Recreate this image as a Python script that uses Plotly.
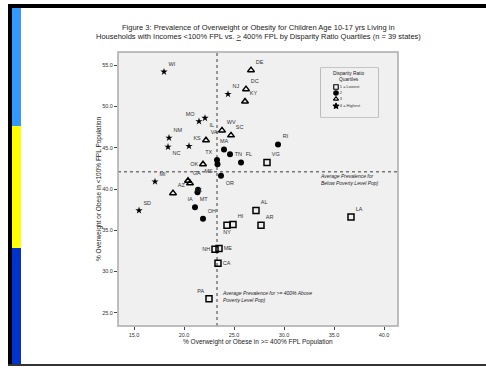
import plotly.graph_objects as go

# ---- data ----
q1_states = ["VG", "AL", "HI", "NY", "AR", "LA", "NH", "ME", "CA", "PA"]
q1_x = [28.3, 27.2, 24.9, 24.3, 27.7, 36.7, 23.1, 23.5, 23.4, 22.5]
q1_y = [43.2, 37.4, 35.7, 35.6, 35.6, 36.6, 32.7, 32.8, 31.0, 26.7]
q1_pos = ["top right", "top right", "top right", "bottom center", "top right",
          "top right", "middle left", "middle right", "middle right", "top left"]

q2_states = ["RI", "MA", "TN", "TX", "MS", "FL", "OR", "IN", "IA", "MT", "OH"]
q2_x = [29.4, 24.0, 24.6, 23.3, 23.35, 25.7, 23.7, 21.4, 21.35, 21.1, 21.9]
q2_y = [45.4, 44.8, 44.2, 43.5, 43.0, 43.2, 41.6, 39.9, 39.6, 37.8, 36.4]
q2_lbl = ["RI", "MA", "TN", "TX", "MS", "FL", "OR", "", "IA", "MT", "OH"]
q2_pos = ["top right", "top center", "middle right", "top left", "bottom left",
          "top right", "bottom right", "bottom left", "bottom left", "top right", "top right"]

q3_states = ["DE", "DC", "KY", "WV", "SC", "VA", "OK", "GA", "AK", "AZ"]
q3_x = [26.7, 26.2, 26.1, 23.8, 24.7, 22.2, 21.9, 20.4, 20.6, 18.9]
q3_y = [54.4, 52.1, 50.6, 47.1, 46.5, 45.9, 43.0, 41.0, 40.7, 39.5]
q3_pos = ["top right", "top right", "top right", "top right", "top right",
          "top right", "middle left", "top right", "bottom right", "top right"]

q4_states = ["WI", "NJ", "MO", "IL", "NM", "NC", "KS", "MI", "SD"]
q4_x = [18.0, 24.4, 21.5, 22.1, 18.5, 18.4, 20.5, 17.1, 15.5]
q4_y = [54.2, 51.5, 48.2, 48.6, 46.2, 45.1, 45.2, 40.9, 37.4]
q4_pos = ["top right", "top right", "top left", "bottom right", "top right",
          "bottom right", "top right", "top right", "top right"]

avg_x_ref = 23.3   # average prevalence >= 400% FPL
avg_y_ref = 42.1   # average prevalence < 100% FPL

x_ticks = [15, 20, 25, 30, 35, 40]
y_ticks = [25, 30, 35, 40, 45, 50, 55]

legend_labels = ["1 = Lowest", "2", "3", "4 = Highest"]

W, H = 486, 368
FONT = "Liberation Sans, Arial, sans-serif"

def px(x):
    return x / W

def py(y):
    return 1 - y / H

fig = go.Figure()

groups = [
    (q1_x, q1_y, q1_states, q1_pos, dict(symbol="square-open", size=6, color="black", line=dict(width=1.5, color="black"))),
    (q2_x, q2_y, q2_lbl, q2_pos, dict(symbol="circle", size=6, color="black")),
    (q3_x, q3_y, q3_states, q3_pos, dict(symbol="triangle-up-open", size=6, color="black", line=dict(width=1.5, color="black"))),
    (q4_x, q4_y, q4_states, q4_pos, dict(symbol="star", size=5.5, color="black")),
]
for gx, gy, gl, gp, mk in groups:
    fig.add_trace(go.Scatter(
        x=gx, y=gy, text=gl, textposition=gp, mode="markers+text",
        marker=mk, textfont=dict(size=5.5, color="#333", family=FONT),
        showlegend=False, cliponaxis=False))

# legend markers on a small overlay axis
leg_y = [87, 93, 99, 106]
leg_syms = ["square-open", "circle", "triangle-up-open", "star"]
fig.add_trace(go.Scatter(
    x=[336] * 4, y=leg_y, mode="markers+text", text=legend_labels,
    textposition="middle right", xaxis="x2", yaxis="y2",
    marker=dict(symbol=leg_syms, size=4.5, color="black", line=dict(width=1.1, color="black")),
    textfont=dict(size=4, color="#333", family=FONT), showlegend=False, cliponaxis=False))

shapes = [
    # outer frame
    dict(type="rect", xref="paper", yref="paper", x0=px(8), x1=1.0, y0=py(8), y1=py(4),
         fillcolor="black", line_width=0, layer="above"),
    dict(type="rect", xref="paper", yref="paper", x0=px(8), x1=px(12), y0=py(366), y1=py(4),
         fillcolor="black", line_width=0, layer="above"),
    dict(type="rect", xref="paper", yref="paper", x0=px(8), x1=1.0, y0=py(366), y1=py(364),
         fillcolor="#333", line_width=0, layer="above"),
    # colour strip
    dict(type="rect", xref="paper", yref="paper", x0=px(12), x1=px(21), y0=py(126), y1=py(8),
         fillcolor="#3399ff", line_width=0, layer="above"),
    dict(type="rect", xref="paper", yref="paper", x0=px(12), x1=px(21), y0=py(248), y1=py(126),
         fillcolor="#ffff00", line_width=0, layer="above"),
    dict(type="rect", xref="paper", yref="paper", x0=px(12), x1=px(21), y0=py(364), y1=py(248),
         fillcolor="#0033cc", line_width=0, layer="above"),
    # plot frame
    dict(type="rect", xref="paper", yref="paper", x0=px(118), x1=px(398), y0=py(326), y1=py(52),
         line=dict(color="#aaa", width=1.5), fillcolor="rgba(0,0,0,0)", layer="above"),
    # reference lines
    dict(type="line", xref="x", yref="paper", x0=avg_x_ref, x1=avg_x_ref, y0=py(326), y1=py(52),
         line=dict(color="#777", width=1.5, dash="dot"), layer="below"),
    dict(type="line", xref="paper", yref="y", x0=px(118), x1=px(398), y0=avg_y_ref, y1=avg_y_ref,
         line=dict(color="#777", width=1.5, dash="dot"), layer="below"),
    # legend box
    dict(type="rect", xref="paper", yref="paper", x0=px(321), x1=px(378), y0=py(117), y1=py(68),
         line=dict(color="#999", width=1.2), fillcolor="#f0f0f0", layer="below"),
]

def ann(text, x, y, size, xanchor="center", yanchor="middle", **kw):
    return dict(text=text, x=px(x), y=py(y), xref="paper", yref="paper", showarrow=False,
                xanchor=xanchor, yanchor=yanchor,
                font=dict(size=size, color="#222", family=FONT), **kw)

annotations = [
    ann("Figure 3: Prevalence of Overweight or Obesity for Children Age 10-17 yrs Living in", 258, 27, 7.5),
    ann("Households with Incomes &lt;100% FPL vs. <u>&gt;</u> 400% FPL by Disparity Ratio Quartiles (n = 39 states)",
        258, 36, 7.5),
    ann("<i>Average Prevalence for<br>Below Poverty Level Pop)</i>", 318, 179, 5, xanchor="left", align="left"),
    ann("<i>Average Prevalence for &gt;= 400% Above<br>Poverty Level Pop)</i>", 220, 296, 5,
        xanchor="left", align="left"),
    ann("Disparity Ratio<br>Quartiles", 349, 76.5, 4.8),
    ann("% Overweight or Obese in &gt;= 400% FPL Population", 258, 342, 6.5),
    ann("% Overweight or Obese in &lt;100% FPL Population", 99, 189, 6.5, textangle=-90),
]

fig.update_layout(
    width=W, height=H, margin=dict(l=0, r=0, t=0, b=0),
    paper_bgcolor="white", plot_bgcolor="#f0f0f0",
    shapes=shapes, annotations=annotations,
    xaxis=dict(domain=[px(118), px(398)], range=[13.4, 41.4], tickvals=x_ticks,
               ticktext=[f"{v:.1f}" for v in x_ticks], ticks="outside", ticklen=3,
               tickcolor="#444", showgrid=False, zeroline=False, showline=False,
               tickfont=dict(size=5.5, color="#333", family=FONT)),
    yaxis=dict(domain=[py(326), py(52)], range=[23.4, 56.6], tickvals=y_ticks,
               ticktext=[f"{v:.1f}" for v in y_ticks], ticks="outside", ticklen=3,
               tickcolor="#444", showgrid=False, zeroline=False, showline=False,
               tickfont=dict(size=5.5, color="#333", family=FONT)),
    xaxis2=dict(domain=[px(321), px(378)], range=[321, 378], visible=False, anchor="y2"),
    yaxis2=dict(domain=[py(117), py(68)], range=[117, 68], visible=False, anchor="x2"),
)

fig.write_html("out.html", config={"displayModeBar": False},
               post_script="document.body.style.margin='0';document.body.style.overflow='hidden';")
